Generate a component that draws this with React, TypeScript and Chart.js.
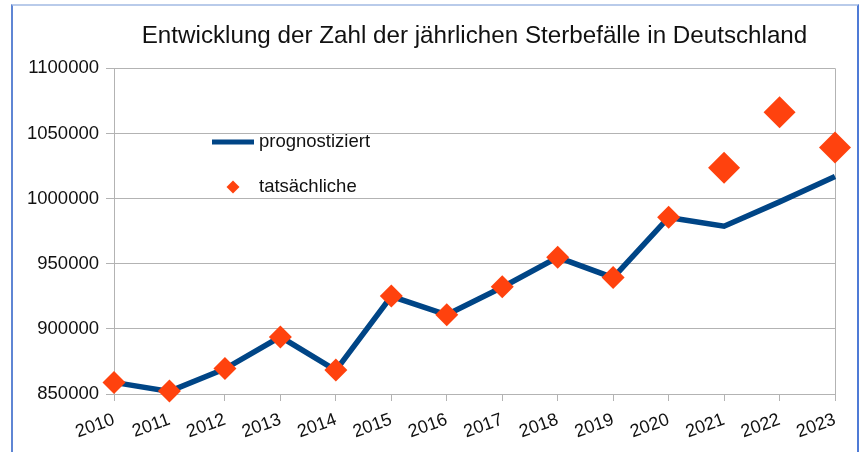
import React, { useEffect, useRef } from "react";
import { Chart, registerables } from "chart.js";

Chart.register(...registerables);

const years = ["2010", "2011", "2012", "2013", "2014", "2015", "2016", "2017", "2018", "2019", "2020", "2021", "2022", "2023"];
const prognostiziert = [858900, 852000, 869300, 893900, 868200, 925000, 910800, 932000, 954900, 939300, 985500, 978800, 997500, 1017000];
const tatsaechliche = [858800, 852300, 869600, 893800, 868400, 925200, 910900, 932300, 954900, 939500, 985600, 1023700, 1066300, 1039200];
const yTicks = { min: 850000, max: 1100000, step: 50000 };
const titleText = "Entwicklung der Zahl der jährlichen Sterbefälle in Deutschland";
const legendLabels = ["prognostiziert", "tatsächliche"];

const BLUE = "#004586";
const ORANGE = "#ff420e";
const GRID = "#b3b3b3";
const FONT = "'Liberation Sans', Arial, sans-serif";

const overlayPlugin = {
  id: "overlay",
  beforeDatasetsDraw(chart: any) {
    const { ctx, chartArea } = chart;
    ctx.save();
    ctx.strokeStyle = GRID;
    ctx.lineWidth = 1;
    ctx.beginPath();
    ctx.moveTo(Math.round(chartArea.right) + 0.5, chartArea.top);
    ctx.lineTo(Math.round(chartArea.right) + 0.5, chartArea.bottom);
    ctx.stroke();
    ctx.restore();
  },
  afterDraw(chart: any) {
    const { ctx } = chart;
    ctx.save();
    ctx.strokeStyle = BLUE;
    ctx.lineWidth = 5;
    ctx.beginPath();
    ctx.moveTo(212, 142);
    ctx.lineTo(254, 142);
    ctx.stroke();
    ctx.fillStyle = ORANGE;
    ctx.beginPath();
    const cx = 233, cy = 187, r = 6.5;
    ctx.moveTo(cx - r, cy);
    ctx.lineTo(cx, cy - r);
    ctx.lineTo(cx + r, cy);
    ctx.lineTo(cx, cy + r);
    ctx.closePath();
    ctx.fill();
    ctx.fillStyle = "#111";
    ctx.font = `18.5px ${FONT}`;
    ctx.textBaseline = "middle";
    ctx.textAlign = "left";
    ctx.fillText(legendLabels[0], 259, 142);
    ctx.fillText(legendLabels[1], 259, 187);
    ctx.restore();
  },
};

export default function App() {
  const canvasRef = useRef<HTMLCanvasElement | null>(null);

  useEffect(() => {
    if (!canvasRef.current) return;
    const chart = new Chart(canvasRef.current, {
      type: "line",
      data: {
        labels: years,
        datasets: [
          {
            label: legendLabels[1],
            data: tatsaechliche,
            showLine: false,
            clip: false,
            pointStyle: "rectRot",
            pointRadius: (c: any) => (c.dataIndex >= 11 ? 16 : 11.5),
            pointHoverRadius: (c: any) => (c.dataIndex >= 11 ? 16 : 11.5),
            pointBackgroundColor: ORANGE,
            pointBorderWidth: 0,
            borderColor: ORANGE,
            backgroundColor: ORANGE,
            order: 0,
          },
          {
            label: legendLabels[0],
            data: prognostiziert,
            borderColor: BLUE,
            backgroundColor: BLUE,
            borderWidth: 5.5,
            pointRadius: 0,
            tension: 0,
            clip: false,
            order: 1,
          },
        ],
      },
      options: {
        animation: false,
        responsive: true,
        maintainAspectRatio: false,
        layout: { padding: { left: 0, right: 29, top: 0, bottom: 0 } },
        plugins: {
          legend: { display: false },
          tooltip: { enabled: false },
          title: {
            display: true,
            text: titleText,
            fullSize: false,
            color: "#111",
            font: { family: FONT, size: 24.2, weight: "normal" },
            padding: { top: 22, bottom: 17.3 },
          },
        },
        scales: {
          x: {
            type: "category",
            offset: false,
            grid: { drawOnChartArea: false, color: GRID, tickLength: 7 },
            border: { color: GRID },
            ticks: {
              color: "#111",
              font: { family: FONT, size: 18 },
              minRotation: 20,
              maxRotation: 20,
              padding: 8,
              autoSkip: false,
            },
            afterFit(scale: any) {
              scale.height = 58;
            },
          },
          y: {
            min: yTicks.min,
            max: yTicks.max,
            grid: { color: GRID, tickLength: 8 },
            border: { color: GRID },
            ticks: {
              stepSize: yTicks.step,
              color: "#111",
              font: { family: FONT, size: 18.5 },
              padding: 7,
              callback: (v: any) => String(v),
            },
            afterFit(scale: any) {
              scale.width = 114;
            },
          },
        },
      },
      plugins: [overlayPlugin],
    });
    return () => chart.destroy();
  }, []);

  return (
    <div style={{ position: "fixed", left: 0, top: 0, width: 864, height: 452, background: "#fff" }}>
      <canvas ref={canvasRef} />
      <div
        style={{
          position: "absolute",
          left: 11,
          top: 4,
          width: 844,
          height: 460,
          borderLeft: "2px solid #5f86d4",
          borderTop: "2px solid #b9cbea",
          borderRight: "2px solid #4f7bd6",
          pointerEvents: "none",
        }}
      />
    </div>
  );
}
